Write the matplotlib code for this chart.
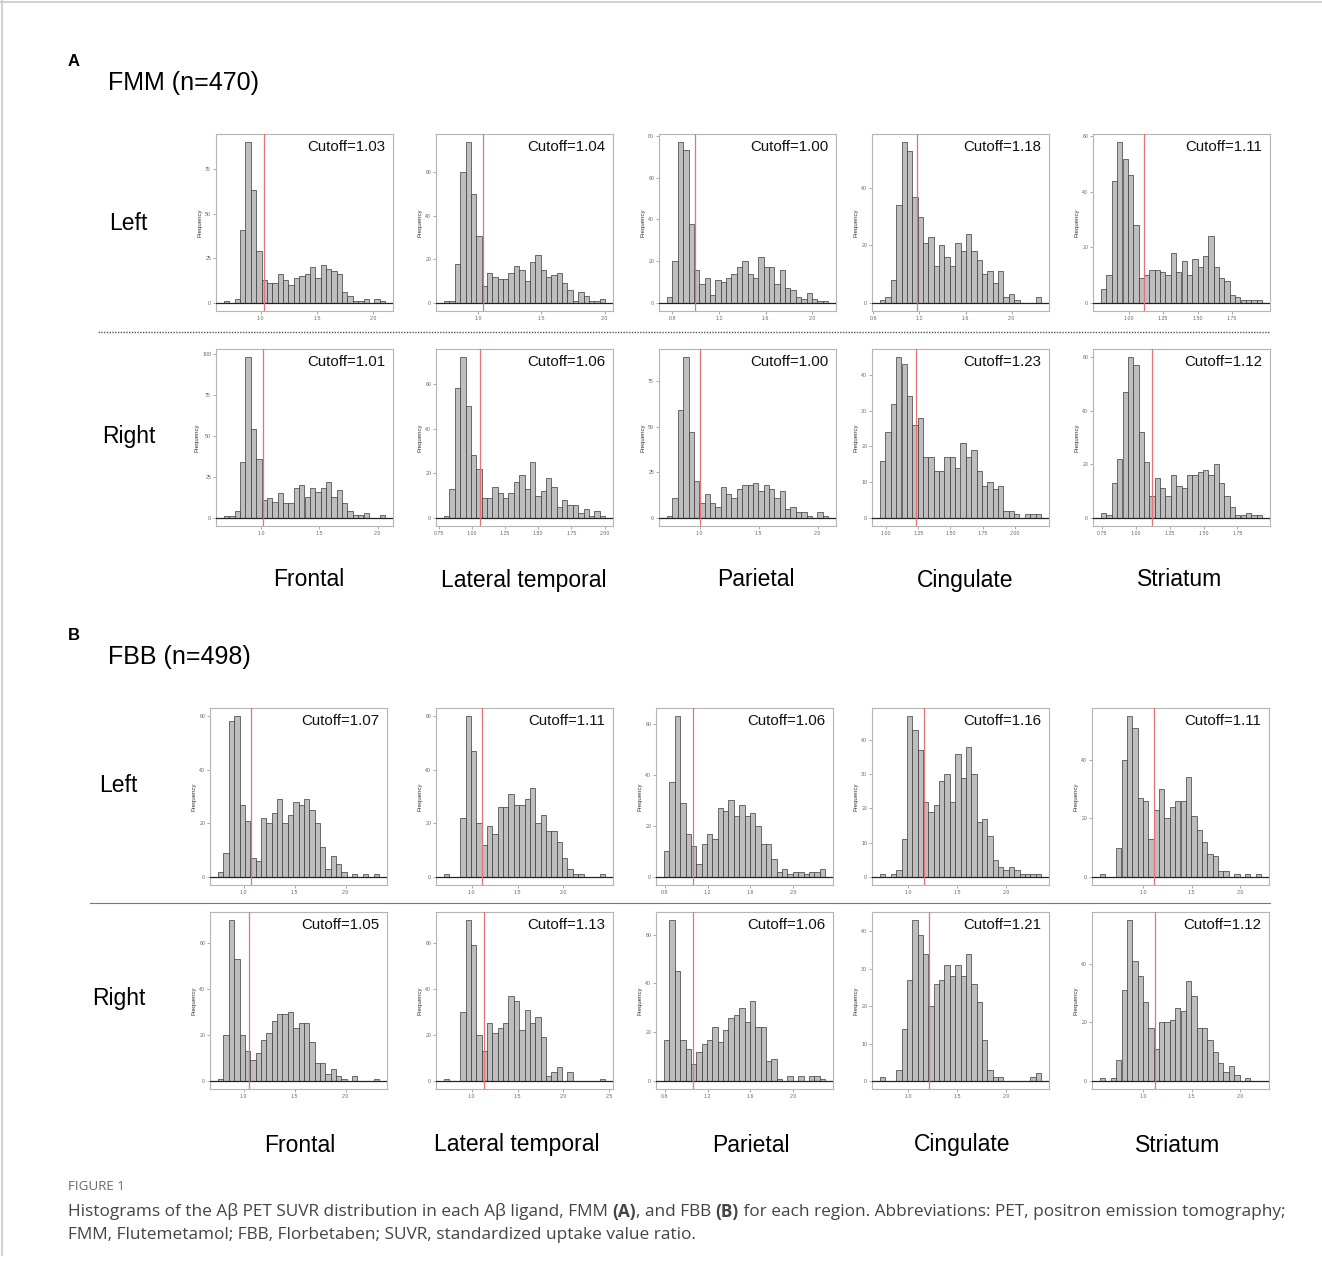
import numpy as np
import matplotlib
matplotlib.use("Agg")
import matplotlib.pyplot as plt
from matplotlib.lines import Line2D
from matplotlib.ticker import MultipleLocator

plt.rcParams['font.family'] = ['Liberation Sans', 'DejaVu Sans']

regions = ["Frontal", "Lateral temporal", "Parietal", "Cingulate", "Striatum"]

fmm_left_cutoff = [1.03, 1.04, 1.00, 1.18, 1.11]
fmm_right_cutoff = [1.01, 1.06, 1.00, 1.23, 1.12]
fbb_left_cutoff = [1.07, 1.11, 1.06, 1.16, 1.11]
fbb_right_cutoff = [1.05, 1.13, 1.06, 1.21, 1.12]

# left edge of first bin, right edge of last bin (SUVR)
fmm_left_range = [(0.675, 2.105), (0.728, 2.003), (0.757, 2.134), (0.858, 2.255), (0.799, 1.966)]
fmm_right_range = [(0.678, 2.064), (0.790, 2.003), (0.724, 2.088), (0.953, 2.203), (0.741, 1.932)]
fbb_left_range = [(0.748, 2.327), (0.697, 2.455), (0.793, 2.297), (0.714, 2.357), (0.557, 2.214)]
fbb_right_range = [(0.748, 2.327), (0.697, 2.455), (0.793, 2.297), (0.714, 2.357), (0.557, 2.214)]

# bin counts, 30 bins each
fmm_left_counts = [
    [1, 0, 2, 41, 90, 63, 29, 13, 11, 11, 16, 13, 10, 14, 15, 16, 20, 14, 21, 19, 18, 16, 6, 4, 1, 1, 2, 0, 2, 1],
    [1, 1, 18, 60, 74, 50, 31, 8, 14, 12, 11, 11, 14, 17, 15, 10, 19, 22, 15, 12, 13, 14, 9, 6, 1, 5, 3, 1, 1, 2],
    [3, 20, 77, 73, 38, 16, 9, 12, 4, 11, 10, 12, 14, 17, 20, 14, 12, 22, 17, 17, 9, 16, 7, 6, 3, 2, 5, 2, 1, 1],
    [1, 2, 8, 34, 56, 53, 37, 30, 21, 23, 13, 20, 16, 13, 21, 18, 24, 18, 15, 10, 11, 7, 11, 2, 3, 1, 0, 0, 0, 2],
    [5, 10, 44, 58, 52, 46, 28, 9, 10, 12, 12, 11, 10, 18, 11, 15, 10, 16, 13, 17, 24, 13, 9, 8, 3, 2, 1, 1, 1, 1],
]
fmm_right_counts = [
    [1, 1, 4, 34, 98, 54, 36, 11, 12, 10, 15, 9, 9, 18, 20, 13, 18, 16, 18, 22, 13, 17, 9, 4, 2, 2, 3, 0, 0, 2],
    [1, 13, 58, 72, 50, 28, 22, 9, 9, 14, 11, 9, 11, 16, 19, 13, 25, 10, 12, 18, 14, 5, 8, 6, 6, 2, 4, 1, 3, 1],
    [1, 11, 59, 88, 47, 20, 8, 13, 8, 6, 17, 13, 11, 16, 18, 18, 19, 15, 18, 16, 11, 15, 5, 6, 3, 3, 1, 0, 3, 1],
    [16, 24, 32, 45, 43, 34, 26, 28, 17, 17, 13, 13, 17, 17, 14, 21, 17, 19, 13, 9, 10, 8, 9, 2, 2, 1, 0, 1, 1, 1],
    [2, 1, 13, 22, 47, 60, 57, 32, 21, 8, 15, 11, 8, 16, 12, 11, 16, 16, 17, 18, 16, 20, 13, 8, 4, 1, 1, 2, 1, 1],
]
fbb_left_counts = [
    [2, 9, 58, 60, 27, 21, 7, 6, 22, 20, 24, 29, 20, 23, 28, 27, 29, 25, 20, 11, 3, 8, 5, 2, 0, 1, 0, 1, 0, 1],
    [1, 0, 0, 22, 60, 47, 20, 12, 19, 16, 26, 26, 31, 27, 27, 29, 33, 20, 23, 17, 17, 13, 7, 3, 1, 1, 0, 0, 0, 1],
    [10, 37, 63, 29, 17, 12, 5, 13, 17, 15, 27, 26, 30, 24, 28, 24, 25, 20, 13, 13, 7, 2, 3, 1, 2, 2, 1, 2, 2, 3],
    [1, 0, 1, 2, 11, 47, 43, 37, 22, 19, 21, 28, 30, 22, 36, 29, 38, 30, 16, 17, 12, 5, 3, 2, 3, 2, 1, 1, 1, 1],
    [1, 0, 0, 10, 40, 55, 51, 27, 26, 13, 23, 30, 20, 24, 26, 26, 34, 21, 16, 12, 8, 7, 2, 2, 0, 1, 0, 1, 0, 1],
]
fbb_right_counts = [
    [1, 20, 70, 53, 20, 13, 9, 12, 18, 21, 26, 29, 29, 30, 23, 25, 25, 17, 8, 8, 3, 5, 2, 1, 0, 2, 0, 0, 0, 1],
    [1, 0, 0, 30, 70, 59, 20, 13, 25, 21, 23, 25, 37, 35, 22, 31, 25, 28, 19, 2, 4, 6, 0, 4, 0, 0, 0, 0, 0, 1],
    [17, 66, 45, 17, 13, 7, 12, 15, 17, 22, 16, 21, 26, 27, 30, 24, 33, 22, 22, 8, 9, 1, 0, 2, 0, 2, 0, 2, 2, 1],
    [1, 0, 0, 3, 14, 27, 43, 39, 34, 20, 26, 27, 31, 28, 31, 28, 34, 26, 21, 11, 3, 1, 1, 0, 0, 0, 0, 0, 1, 2],
    [1, 0, 1, 7, 31, 55, 41, 36, 27, 18, 11, 20, 20, 21, 25, 24, 34, 29, 18, 18, 14, 10, 6, 3, 5, 2, 0, 1, 0, 0],
]

fmm_left_xticks = [["1.0", "1.5", "2.0"], ["1.0", "1.5", "2.0"], ["0.8", "1.2", "1.6", "2.0"],
                   ["0.8", "1.2", "1.6", "2.0"], ["1.00", "1.25", "1.50", "1.75"]]
fmm_right_xticks = [["1.0", "1.5", "2.0"], ["0.75", "1.00", "1.25", "1.50", "1.75", "2.00"], ["1.0", "1.5", "2.0"],
                    ["1.00", "1.25", "1.50", "1.75", "2.00"], ["0.75", "1.00", "1.25", "1.50", "1.75"]]
fbb_left_xticks = [["1.0", "1.5", "2.0"], ["1.0", "1.5", "2.0"], ["0.8", "1.2", "1.6", "2.0"],
                   ["1.0", "1.5", "2.0"], ["1.0", "1.5", "2.0"]]
fbb_right_xticks = [["1.0", "1.5", "2.0"], ["1.0", "1.5", "2.0", "2.5"], ["0.8", "1.2", "1.6", "2.0"],
                    ["1.0", "1.5", "2.0"], ["1.0", "1.5", "2.0"]]

fmm_left_ystep = [25, 20, 20, 20, 20]
fmm_right_ystep = [25, 20, 25, 10, 20]
fbb_left_ystep = [20, 20, 20, 10, 20]
fbb_right_ystep = [20, 20, 20, 10, 20]

W, H = 1322, 1269
fig = plt.figure(figsize=(W / 100, H / 100), dpi=100)


def px_axes(left, top, w, h):
    return fig.add_axes([left / W, 1 - (top + h) / H, w / W, h / H])


def hist_panel(ax, counts, rng, cutoff, xticks, ystep):
    edges = np.linspace(rng[0], rng[1], len(counts) + 1)
    ax.bar(edges[:-1], counts, width=np.diff(edges), align='edge',
           color='#BEBEBE', edgecolor='#3a3a3a', linewidth=0.5, zorder=2)
    pad = 0.05 * (rng[1] - rng[0])
    ax.set_xlim(rng[0] - pad, rng[1] + pad)
    top = max(counts)
    ax.set_ylim(-0.05 * top, top * 1.05)
    ax.axhline(0, color='#222222', lw=0.9, zorder=3)
    ax.axvline(cutoff, color='#E57373', lw=0.9, zorder=4)
    ax.set_xticks([float(t) for t in xticks])
    ax.set_xticklabels(xticks)
    ax.yaxis.set_major_locator(MultipleLocator(ystep))
    ax.tick_params(labelsize=3.8, labelcolor='#666666', color='#888888',
                   length=2, width=0.5, pad=1.5)
    ax.set_ylabel("Frequency", fontsize=4.3, color='#333333', labelpad=2)
    for s in ax.spines.values():
        s.set_color('#B5B5B5')
        s.set_linewidth(0.8)
    ax.text(0.955, 0.925, f"Cutoff={cutoff:.2f}", transform=ax.transAxes,
            ha='right', va='center', fontsize=10.8, color='#111111')


cols_a = [216, 436, 659, 872, 1093]
cols_b = [210, 436, 656, 872, 1092]
rows = [
    (cols_a, 134, fmm_left_counts, fmm_left_range, fmm_left_cutoff, fmm_left_xticks, fmm_left_ystep),
    (cols_a, 349, fmm_right_counts, fmm_right_range, fmm_right_cutoff, fmm_right_xticks, fmm_right_ystep),
    (cols_b, 708, fbb_left_counts, fbb_left_range, fbb_left_cutoff, fbb_left_xticks, fbb_left_ystep),
    (cols_b, 912, fbb_right_counts, fbb_right_range, fbb_right_cutoff, fbb_right_xticks, fbb_right_ystep),
]
for cols, top, cnts, rngs, cuts, xts, ysteps in rows:
    for i in range(5):
        ax = px_axes(cols[i], top, 177, 177)
        hist_panel(ax, cnts[i], rngs[i], cuts[i], xts[i], ysteps[i])


def ftext(x, y, s, **kw):
    return fig.text(x / W, 1 - y / H, s, **kw)


# panel A labels
ftext(68, 62, "A", fontsize=12, fontweight='bold', va='center')
ftext(108, 83, "FMM (n=470)", fontsize=18, va='center')
ftext(128, 224, "Left", fontsize=16.5, ha='center', va='center')
ftext(129, 436, "Right", fontsize=16.5, ha='center', va='center')
for x, name in zip([309, 524, 756, 965, 1180], regions):
    ftext(x, 580, name, fontsize=16.5, ha='center', va='center')
fig.add_artist(Line2D([98 / W, 1270 / W], [1 - 332 / H] * 2, color='#555555',
                      lw=1.0, linestyle=(0, (1, 1))))

# panel B labels
ftext(68, 636, "B", fontsize=12, fontweight='bold', va='center')
ftext(108, 657, "FBB (n=498)", fontsize=18, va='center')
ftext(118, 786, "Left", fontsize=16.5, ha='center', va='center')
ftext(119, 998, "Right", fontsize=16.5, ha='center', va='center')
for x, name in zip([300, 517, 751, 962, 1178], regions):
    ftext(x, 1145, name, fontsize=16.5, ha='center', va='center')
fig.add_artist(Line2D([90 / W, 1270 / W], [1 - 903 / H] * 2, color='#777777', lw=0.8))

# page frame
fig.add_artist(Line2D([0, 1], [1 - 1.5 / H] * 2, color='#C8C8C8', lw=1.2))
fig.add_artist(Line2D([2 / W, 2 / W], [1, 1 - 1255 / H], color='#C8C8C8', lw=1.2))

# caption
cap_font = ['Open Sans', 'DejaVu Sans']
ftext(68, 1187, "FIGURE 1", fontsize=9.6, color='#6a6a6a', va='center', family=cap_font)
renderer = fig.canvas.get_renderer()


def seg_line(x, y, parts):
    for s, w in parts:
        t = ftext(x, y, s, fontsize=12.4, color='#444444', fontweight=w,
                  va='center', family=cap_font)
        x += t.get_window_extent(renderer).width


seg_line(68, 1212, [("Histograms of the Aβ PET SUVR distribution in each Aβ ligand, FMM ", 'normal'),
                    ("(A)", 'bold'), (", and FBB ", 'normal'), ("(B)", 'bold'),
                    (" for each region. Abbreviations: PET, positron emission tomography;", 'normal')])
seg_line(68, 1235, [("FMM, Flutemetamol; FBB, Florbetaben; SUVR, standardized uptake value ratio.", 'normal')])

fig.savefig("out.png", dpi=100)
